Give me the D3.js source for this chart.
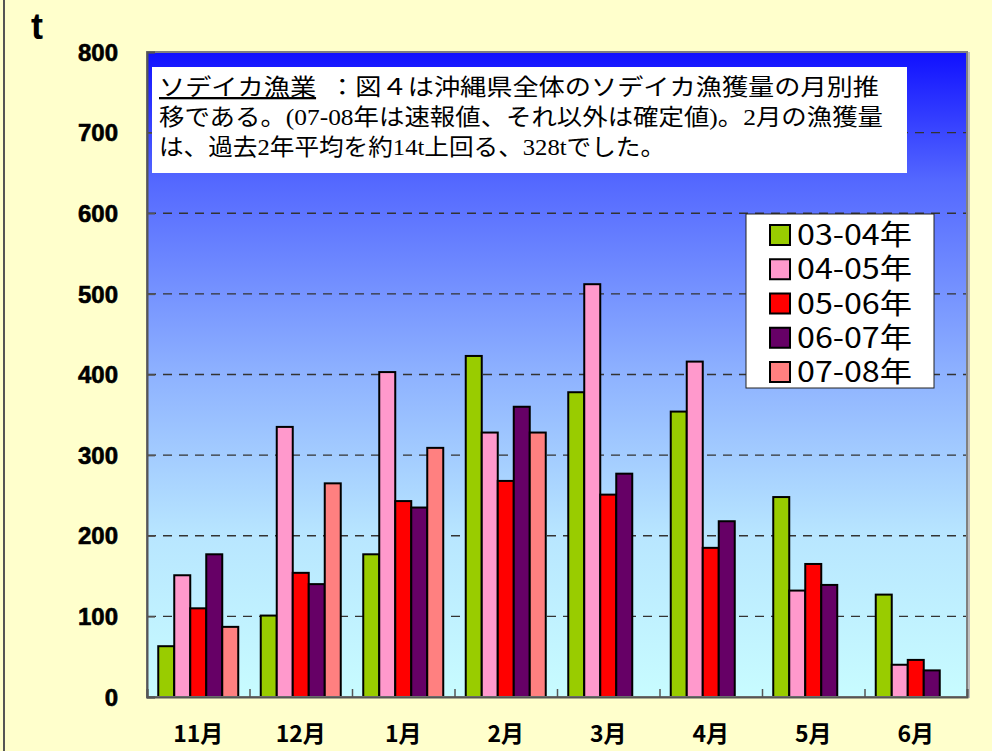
<!DOCTYPE html>
<html>
<head>
<meta charset="utf-8">
<script src="https://cdn.jsdelivr.net/npm/d3@7"></script>
<style>
body { margin: 0; background: #ffffcc; }
svg { display: block; }
</style>
</head>
<body>
<svg id="graph" width="992" height="751"></svg>
<script>
var months = ["11月", "12月", "1月", "2月", "3月", "4月", "5月", "6月"];
var seriesNames = ["03-04年", "04-05年", "05-06年", "06-07年", "07-08年"];
var seriesColors = ["#99cc00", "#ff99cc", "#ff0000", "#660066", "#ff8080"];
var v0304 = [63, 101, 177, 423, 378, 354, 248, 127];
var v0405 = [151, 335, 403, 328, 512, 416, 132, 40];
var v0506 = [110, 154, 243, 268, 251, 185, 165, 46];
var v0607 = [177, 140, 235, 360, 277, 218, 139, 33];
var v0708 = [87, 265, 309, 328, null, null, null, null];
var yTicks = [0, 100, 200, 300, 400, 500, 600, 700, 800];
var noteLines = [
    ["ソデイカ漁業", "  ：図４は沖縄県全体のソデイカ漁獲量の月別推"],
    ["", "移である。(07-08年は速報値、それ以外は確定値)。2月の漁獲量"],
    ["", "は、過去2年平均を約14t上回る、328tでした。"]
];

var allSeries = [v0304, v0405, v0506, v0607, v0708];
var svg = d3.select("#graph");
var plotL = 147, plotR = 967, plotT = 52, plotB = 697;

// gradient for plot area
var grad = svg.append("defs").append("linearGradient")
    .attr("id", "bg").attr("x1", 0).attr("y1", 0).attr("x2", 0).attr("y2", 1);
[["0", "#1010ff"], ["0.2", "#5468ff"], ["0.5", "#8eb2ff"], ["0.75", "#b8e6ff"], ["1", "#c8fcff"]].forEach(function(s) {
    grad.append("stop").attr("offset", s[0]).attr("stop-color", s[1]);
});

// outer frame line at left
svg.append("line").attr("x1", 4).attr("x2", 4).attr("y1", 0).attr("y2", 751)
    .attr("stroke", "#555").attr("stroke-width", 2);

var y = d3.scaleLinear().domain([0, 800]).range([plotB, plotT]);
var x0 = d3.scaleBand().domain(months).range([plotL, plotR]);
var x1 = d3.scaleBand().domain(seriesNames).range([11.25, x0.bandwidth() - 11.25]);

svg.append("rect")
    .attr("x", plotL).attr("y", plotT)
    .attr("width", plotR - plotL).attr("height", plotB - plotT)
    .attr("fill", "url(#bg)");

// gridlines
svg.append("g").selectAll("line")
    .data(yTicks.filter(function(d) { return d > 0 && d < 800; }))
    .enter().append("line")
    .attr("x1", plotL).attr("x2", plotR)
    .attr("y1", function(d) { return y(d); })
    .attr("y2", function(d) { return y(d); })
    .attr("stroke", "#333")
    .attr("stroke-width", 1.3)
    .attr("stroke-dasharray", "9,7");

// bars
var groups = svg.append("g").selectAll("g")
    .data(months)
    .enter().append("g")
    .attr("transform", function(d) { return "translate(" + x0(d) + ",0)"; });

groups.selectAll("rect")
    .data(function(m, i) {
        return seriesNames.map(function(s, j) { return {s: s, j: j, v: allSeries[j][i]}; })
            .filter(function(d) { return d.v != null; });
    })
    .enter().append("rect")
    .attr("x", function(d) { return x1(d.s); })
    .attr("y", function(d) { return y(d.v); })
    .attr("width", x1.bandwidth())
    .attr("height", function(d) { return plotB - y(d.v); })
    .attr("fill", function(d) { return seriesColors[d.j]; })
    .attr("stroke", "#000")
    .attr("stroke-width", 2);

// plot border
svg.append("rect")
    .attr("x", plotL).attr("y", plotT)
    .attr("width", plotR - plotL).attr("height", plotB - plotT)
    .attr("fill", "none").attr("stroke", "#808080").attr("stroke-width", 2);
svg.append("line").attr("x1", plotR + 2).attr("x2", plotR + 2).attr("y1", plotT).attr("y2", plotB + 1)
    .attr("stroke", "#c0c0c0").attr("stroke-width", 2);

// y axis
var yAxis = svg.append("g")
    .attr("transform", "translate(" + plotL + ",0)")
    .call(d3.axisRight(y).tickValues(yTicks).tickSize(8).tickFormat(""));
yAxis.select(".domain").attr("stroke", "#555").attr("stroke-width", 2);
yAxis.selectAll(".tick line").attr("stroke", "#555").attr("stroke-width", 1.5);

svg.append("g").selectAll("text")
    .data(yTicks)
    .enter().append("text")
    .attr("x", 118)
    .attr("y", function(d) { return y(d); })
    .attr("dy", "0.36em")
    .attr("text-anchor", "end")
    .attr("font-family", "'Liberation Sans', Arial, sans-serif")
    .attr("font-weight", "bold")
    .attr("font-size", 24)
    .attr("stroke", "#000")
    .attr("stroke-width", 0.6)
    .text(function(d) { return d; });

// x axis
var xAxis = svg.append("g")
    .attr("transform", "translate(0," + plotB + ")")
    .call(d3.axisTop(d3.scaleLinear().domain([0, 8]).range([plotL, plotR])).ticks(8).tickSize(8).tickFormat(""));
xAxis.select(".domain").attr("stroke", "#555").attr("stroke-width", 2);
xAxis.selectAll(".tick line").attr("stroke", "#555").attr("stroke-width", 1.5);

svg.append("g").selectAll("text")
    .data(months)
    .enter().append("text")
    .attr("x", function(d) { return x0(d) + x0.bandwidth() / 2; })
    .attr("y", 742)
    .attr("text-anchor", "middle")
    .attr("font-family", "'Noto Sans CJK JP', sans-serif")
    .attr("font-weight", "bold")
    .attr("font-size", 23)
    .text(function(d) { return d; });

svg.append("text")
    .attr("x", 31).attr("y", 39)
    .attr("font-family", "'Liberation Sans', Arial, sans-serif")
    .attr("font-weight", "bold")
    .attr("font-size", 36)
    .text("t");

// note box
svg.append("rect")
    .attr("x", 152).attr("y", 67).attr("width", 755).attr("height", 106)
    .attr("fill", "#fff");
var noteWidths = [720, 724, 506];
svg.append("g").selectAll("text")
    .data(noteLines)
    .enter().append("text")
    .attr("x", 159)
    .attr("y", function(d, i) { return 95 + i * 30; })
    .attr("font-family", "'Liberation Serif', 'Noto Sans CJK JP', serif")
    .attr("font-size", 23)
    .attr("xml:space", "preserve")
    .attr("textLength", function(d, i) { return noteWidths[i]; })
    .attr("lengthAdjust", "spacingAndGlyphs")
    .each(function(d) {
        var t = d3.select(this);
        if (d[0]) t.append("tspan").attr("text-decoration", "underline").text(d[0]);
        t.append("tspan").text(d[1]);
    });

// legend
var legend = svg.append("g");
legend.append("rect")
    .attr("x", 746).attr("y", 214).attr("width", 188).attr("height", 174)
    .attr("fill", "#fff").attr("stroke", "#222").attr("stroke-width", 1);
var items = legend.selectAll("g")
    .data(seriesNames)
    .enter().append("g")
    .attr("transform", function(d, i) { return "translate(0," + (225 + i * 34.25) + ")"; });
items.append("rect")
    .attr("x", 770).attr("y", 0).attr("width", 20).attr("height", 20)
    .attr("fill", function(d, i) { return seriesColors[i]; })
    .attr("stroke", "#000").attr("stroke-width", 2);
items.append("text")
    .attr("x", 797).attr("y", 20)
    .attr("font-family", "'Noto Sans CJK JP', sans-serif")
    .attr("font-size", 28)
    .attr("textLength", 115)
    .attr("lengthAdjust", "spacingAndGlyphs")
    .text(function(d) { return d; });
</script>
</body>
</html>
